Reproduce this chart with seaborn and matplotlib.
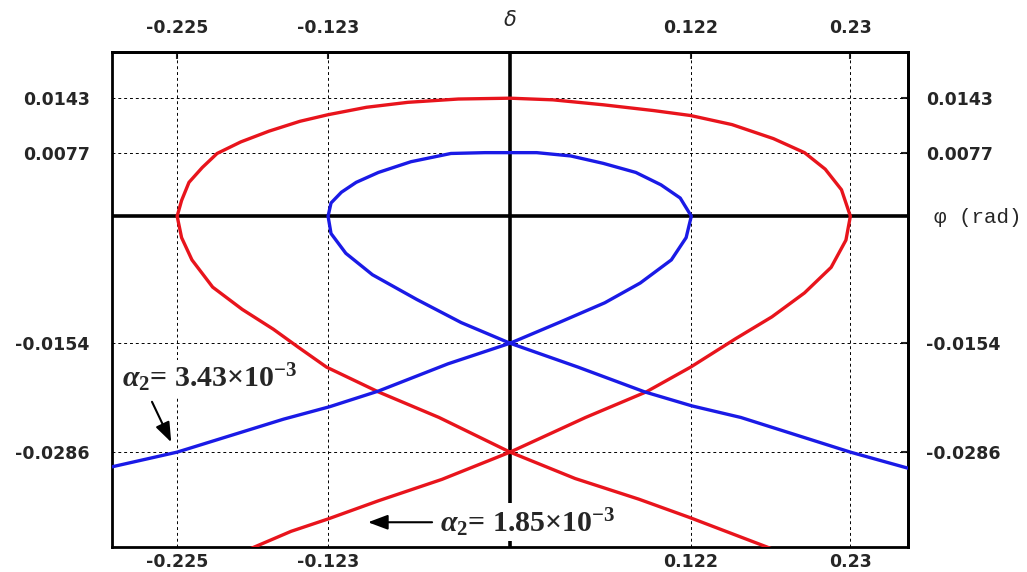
import numpy as np
import pandas as pd
import matplotlib
matplotlib.use("Agg")
import matplotlib.pyplot as plt
import seaborn as sns

# phase portrait delta(phi) (traced in drawing order)
red_phi = [-0.178, -0.148, -0.123, -0.089, -0.046, 0.0, 0.051, 0.092, 0.122, 0.152,
           0.177, 0.199, 0.217, 0.227, 0.230, 0.224, 0.213, 0.199, 0.178, 0.150,
           0.122, 0.097, 0.063, 0.029, 0.0, -0.035, -0.069, -0.097, -0.123, -0.142,
           -0.163, -0.182, -0.198, -0.208, -0.217, -0.222, -0.225, -0.222, -0.215, -0.201,
           -0.181, -0.160, -0.143, -0.124, -0.089, -0.048, 0.0, 0.044, 0.087, 0.121,
           0.178]
red_delta = [-0.0405, -0.0382, -0.0367, -0.0345, -0.0319, -0.0286, -0.0244, -0.0213, -0.0183, -0.0149,
             -0.0122, -0.0093, -0.0062, -0.0029, 0.0, 0.0032, 0.0057, 0.0077, 0.0094, 0.0111,
             0.0122, 0.0128, 0.0135, 0.0141, 0.0143, 0.0142, 0.0138, 0.0132, 0.0123, 0.0115,
             0.0103, 0.0090, 0.0076, 0.0059, 0.0041, 0.0019, 0.0, -0.0026, -0.0053, -0.0086,
             -0.0113, -0.0137, -0.0159, -0.0183, -0.0213, -0.0244, -0.0286, -0.0318, -0.0343, -0.0365,
             -0.0404]

blue_phi = [-0.272, -0.225, -0.153, -0.122, -0.089, -0.042, 0.0, 0.033, 0.064, 0.088,
            0.109, 0.119, 0.1225, 0.115, 0.102, 0.085, 0.063, 0.041, 0.018, 0.0,
            -0.017, -0.040, -0.067, -0.089, -0.104, -0.114, -0.121, -0.123, -0.121, -0.111,
            -0.093, -0.063, -0.033, 0.0, 0.046, 0.091, 0.123, 0.156, 0.230, 0.274]
blue_delta = [-0.0305, -0.0286, -0.0246, -0.0231, -0.0212, -0.0179, -0.0154, -0.0129, -0.0105, -0.0081,
              -0.0053, -0.0026, 0.0, 0.0022, 0.0038, 0.0053, 0.0064, 0.0073, 0.0077, 0.0077,
              0.0077, 0.0076, 0.0066, 0.0053, 0.0041, 0.0029, 0.0016, 0.0, -0.0021, -0.0045,
              -0.0071, -0.0101, -0.0129, -0.0154, -0.0183, -0.0213, -0.0230, -0.0244, -0.0286, -0.0308]

x_ticks = [-0.225, -0.123, 0.0, 0.122, 0.23]
x_labels = ["-0.225", "-0.123", "", "0.122", "0.23"]
y_ticks = [0.0143, 0.0077, 0.0, -0.0154, -0.0286]
y_labels = ["0.0143", "0.0077", "", "-0.0154", "-0.0286"]

sns.set_style("white")
plt.rcParams["font.family"] = ["DejaVu Sans"]
plt.rcParams["mathtext.fontset"] = "custom"
plt.rcParams["mathtext.rm"] = "Liberation Serif:bold"
plt.rcParams["mathtext.it"] = "Liberation Serif:italic:bold"
plt.rcParams["mathtext.bf"] = "Liberation Serif:bold"

fig = plt.figure(figsize=(10.27, 5.72), dpi=100)
ax = fig.add_axes([0.1091, 0.0437, 0.7751, 0.8654])

curves = pd.concat([
    pd.DataFrame({"phi": red_phi, "delta": red_delta, "alpha": "1.85e-3"}),
    pd.DataFrame({"phi": blue_phi, "delta": blue_delta, "alpha": "3.43e-3"}),
])
sns.lineplot(data=curves, x="phi", y="delta", hue="alpha",
             palette={"1.85e-3": "#e8141c", "3.43e-3": "#1a1ae6"},
             sort=False, estimator=None, lw=2.4, legend=False, ax=ax, zorder=3,
             solid_joinstyle="round")

ax.set_xlim(-0.269, 0.269)
ax.set_ylim(-0.0401, 0.0199)
ax.set_xlabel("")
ax.set_ylabel("")

# dashed grid + thick zero axes
ax.set_xticks(x_ticks, labels=x_labels)
ax.set_yticks(y_ticks, labels=y_labels)
ax.grid(True, color="black", linestyle=(0, (3, 3)), lw=0.7)
ax.axhline(0, color="black", lw=2.6, zorder=2)
ax.axvline(0, color="black", lw=2.6, zorder=2)

ax.tick_params(axis="x", direction="in", length=5, width=1.5, pad=4, labelsize=12.5)
ax.tick_params(axis="y", direction="in", length=5, width=1.5, pad=16, labelsize=12.5)
for lab in ax.get_xticklabels() + ax.get_yticklabels():
    lab.set_fontweight("bold")

top = ax.secondary_xaxis("top")
top.set_xticks(x_ticks, labels=x_labels)
top.tick_params(direction="in", length=5, width=1.5, pad=11, labelsize=12.5)
right = ax.secondary_yaxis("right")
right.set_yticks(y_ticks, labels=y_labels)
right.tick_params(direction="in", length=5, width=1.5, pad=13, labelsize=12.5)
for sec in (top, right):
    for lab in sec.get_xticklabels() + sec.get_yticklabels():
        lab.set_fontweight("bold")
    for sp in sec.spines.values():
        sp.set_color("black")
        sp.set_linewidth(2)

for sp in ax.spines.values():
    sp.set_visible(True)
    sp.set_color("black")
    sp.set_linewidth(2)

ax.annotate("δ", xy=(0, 1), xycoords=("data", "axes fraction"), xytext=(0, 23),
            textcoords="offset points", ha="center", va="center",
            fontsize=15, style="italic")
ax.annotate("φ (rad)", xy=(1, 0), xycoords=("axes fraction", "data"), xytext=(19, -1),
            textcoords="offset points", ha="left", va="center",
            fontsize=15, family="Liberation Mono")

# curve labels
arrow = dict(arrowstyle="-|>,head_length=0.8,head_width=0.3", color="black", lw=1.5,
             mutation_scale=15, shrinkA=0, shrinkB=0)
ax.text(-0.2622, -0.0196, r"$\alpha_2$= 3.43×10$^{-3}$", ha="left", va="center",
        fontsize=21.5, family="Liberation Serif", fontweight="bold", zorder=5,
        bbox=dict(facecolor="white", edgecolor="none", pad=1))
ax.annotate("", xy=(-0.229, -0.0274), xytext=(-0.242, -0.0225), arrowprops=arrow, zorder=5)

ax.text(-0.0473, -0.0371, r"$\alpha_2$= 1.85×10$^{-3}$", ha="left", va="center",
        fontsize=21.5, family="Liberation Serif", fontweight="bold", zorder=5,
        bbox=dict(facecolor="white", edgecolor="none", pad=2))
ax.annotate("", xy=(-0.096, -0.0371), xytext=(-0.0527, -0.0371), arrowprops=arrow, zorder=5)

fig.savefig("out.png", dpi=100)
